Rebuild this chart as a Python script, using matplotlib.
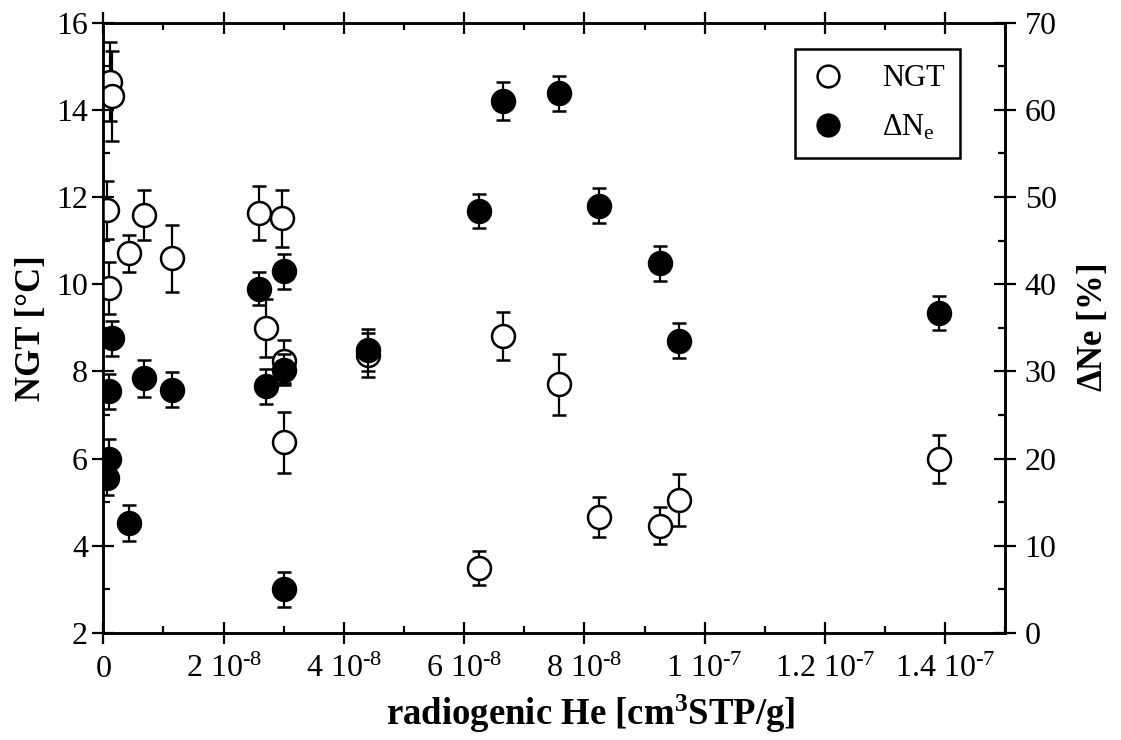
import numpy as np
import matplotlib
matplotlib.use('Agg')
import matplotlib.pyplot as plt
from matplotlib.ticker import MultipleLocator

# radiogenic He (units of 1e-8 cm3STP/g), NGT [degC] and its error
he_ngt = np.array([0.11, 0.15, 0.06, 0.10, 0.42, 0.68, 1.15, 2.59, 2.97, 2.71,
                   3.00, 3.00, 4.40, 6.25, 6.65, 7.58, 8.25, 9.25, 9.58, 13.90]) * 1e-8
ngt = [14.65, 14.32, 11.70, 9.92, 10.71, 11.59, 10.60, 11.63, 11.51, 8.99,
       8.23, 6.37, 8.38, 3.49, 8.81, 7.71, 4.66, 4.46, 5.05, 5.99]
ngt_err = [0.90, 1.03, 0.67, 0.60, 0.43, 0.58, 0.77, 0.62, 0.65, 0.67,
           0.50, 0.69, 0.50, 0.40, 0.55, 0.70, 0.46, 0.42, 0.60, 0.55]

# radiogenic He (1e-8 cm3STP/g), delta Ne [%] and its error
he_dne = np.array([0.14, 0.10, 0.10, 0.06, 0.42, 0.68, 1.15, 2.59, 3.00, 2.71,
                   3.00, 3.00, 4.40, 6.25, 6.65, 7.58, 8.25, 9.25, 9.58, 13.90]) * 1e-8
dne = [33.8, 27.7, 20.0, 17.8, 12.6, 29.2, 27.9, 39.5, 41.5, 28.3,
       30.2, 5.0, 32.5, 48.4, 61.0, 61.9, 49.0, 42.4, 33.5, 36.7]
dne_err = [2.0, 2.0, 2.2, 2.0, 2.1, 2.1, 2.0, 1.9, 2.0, 2.0,
           1.8, 2.0, 2.4, 2.0, 2.2, 2.0, 2.0, 2.0, 2.0, 2.0]

xtick_vals = [0, 2e-8, 4e-8, 6e-8, 8e-8, 1e-7, 1.2e-7, 1.4e-7]
xtick_labels = ['0', r'2 10$^{\text{-8}}$', r'4 10$^{\text{-8}}$', r'6 10$^{\text{-8}}$',
                r'8 10$^{\text{-8}}$', r'1 10$^{\text{-7}}$', r'1.2 10$^{\text{-7}}$',
                r'1.4 10$^{\text{-7}}$']

plt.rcParams['font.family'] = ['Liberation Serif', 'DejaVu Serif']
plt.rcParams['mathtext.fontset'] = 'custom'
plt.rcParams['mathtext.rm'] = 'Liberation Serif'
plt.rcParams['mathtext.it'] = 'Liberation Serif:italic'
plt.rcParams['mathtext.bf'] = 'Liberation Serif:bold'

fig = plt.figure(figsize=(11.21, 7.40), dpi=100)
ax = fig.add_axes([103.3/1121, 1 - 633/740, (1005.3 - 103.3)/1121, (633 - 22.7)/740])
ax2 = ax.twinx()

ms = 16.5
style = dict(fmt='o', ms=ms, mew=1.8, mec='black', ecolor='black',
             elinewidth=1.6, capsize=4.7, capthick=1.6)

e1 = ax.errorbar(he_ngt, ngt, yerr=ngt_err, mfc='white', zorder=3, **style)
e2 = ax2.errorbar(he_dne, dne, yerr=dne_err, mfc='black', zorder=4, **style)

ax.set_xlim(0, 1.5e-7)
ax.set_ylim(2, 16)
ax2.set_ylim(0, 70)

ax.set_xticks(xtick_vals, xtick_labels)
ax.xaxis.set_minor_locator(MultipleLocator(1e-8))
ax.yaxis.set_major_locator(MultipleLocator(2))
ax.yaxis.set_minor_locator(MultipleLocator(1))
ax2.yaxis.set_major_locator(MultipleLocator(10))
ax2.yaxis.set_minor_locator(MultipleLocator(5))

for a in (ax, ax2):
    for s in a.spines.values():
        s.set_linewidth(1.8)

ax.tick_params(axis='x', which='major', direction='inout', length=16, width=1.6,
               top=True, labelsize=23, pad=8)
ax.tick_params(axis='x', which='minor', direction='in', length=5, width=1.6, top=True)
ax.tick_params(axis='y', which='major', direction='inout', length=16, width=1.6,
               right=False, labelsize=23, pad=3)
ax.tick_params(axis='y', which='minor', direction='in', length=5, width=1.6, right=False)
ax2.tick_params(axis='y', which='major', direction='inout', length=16, width=1.6,
                labelsize=23, pad=6)
ax2.tick_params(axis='y', which='minor', direction='in', length=5, width=1.6)

ax.set_xlabel(r'radiogenic He [cm$^{\mathbf{3}}$STP/g]', fontsize=26.5, fontweight='bold', labelpad=6)
ax.xaxis.label.set_x(0.54)
ax.set_ylabel('NGT [°C]', fontsize=25, fontweight='bold', labelpad=6)
ax2.set_ylabel(r'$\mathbf{\Delta}$Ne [%]', fontsize=25, fontweight='bold', labelpad=14)

leg = ax2.legend([e1[0], e2[0]], ['NGT', r'$\Delta$N$_{\mathrm{e}}$'],
                 loc='upper right', bbox_to_anchor=(960/1121, 1 - 49/740),
                 bbox_transform=fig.transFigure, borderaxespad=0,
                 fontsize=22, fancybox=False, edgecolor='black', framealpha=1,
                 handletextpad=1.16, borderpad=0.5, labelspacing=0.65,
                 handlelength=1.2, markerscale=0.95)
leg.get_frame().set_linewidth(1.8)

fig.savefig('out.png', dpi=100)
